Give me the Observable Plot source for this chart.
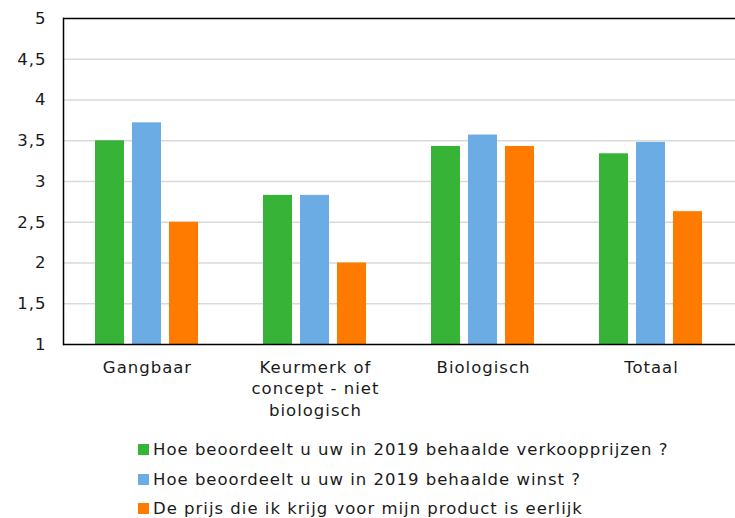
<!DOCTYPE html>
<html><head><meta charset="utf-8">
<script src="https://cdn.jsdelivr.net/npm/d3@7"></script>
<script src="https://cdn.jsdelivr.net/npm/@observablehq/plot@0.6"></script>
<style>
body{margin:0;background:#fff;font-family:"DejaVu Sans",Verdana,sans-serif;color:#1a1a1a;}
#chart{width:735px;}
.legend{margin:5px 0 0 138px;font-size:16.5px;letter-spacing:1px;}
.legend .item{display:flex;align-items:center;height:29.5px;}
.legend .sw{width:11px;height:11px;margin-right:4px;flex:none;}
</style></head><body><div id="chart"></div>
<script>
const categories = ["Gangbaar", "Keurmerk of concept - niet biologisch", "Biologisch", "Totaal"];
const categoryLabels = ["Gangbaar", "Keurmerk of\nconcept - niet\nbiologisch", "Biologisch", "Totaal"];
const series = [
  "Hoe beoordeelt u uw in 2019 behaalde verkoopprijzen ?",
  "Hoe beoordeelt u uw in 2019 behaalde winst ?",
  "De prijs die ik krijg voor mijn product is eerlijk"
];
const colors = ["#37b337", "#6aace3", "#ff7b00"];
const verkoopprijzen = [3.5, 2.83, 3.43, 3.34];
const winst = [3.72, 2.83, 3.57, 3.48];
const eerlijk = [2.5, 2.0, 3.43, 2.63];
const yTicks = [1, 1.5, 2, 2.5, 3, 3.5, 4, 4.5, 5];
const gridTicks = [1.5, 2, 2.5, 3, 3.5, 4, 4.5];
const frameTicks = [1, 5];

const seriesValues = [verkoopprijzen, winst, eerlijk];
const data = [];
categories.forEach((c, i) => series.forEach((s, j) => data.push({category: c, series: s, value: seriesValues[j][i]})));
const labelMap = new Map(categories.map((c, i) => [c, categoryLabels[i]]));

const chart = Plot.plot({
  width: 735, height: 430,
  marginLeft: 62, marginRight: 0, marginTop: 18, marginBottom: 86,
  style: {fontFamily: "'DejaVu Sans', Verdana, sans-serif", fontSize: "16.5px", letterSpacing: "1px", color: "#1a1a1a", background: "#fff"},
  fx: {domain: categories, padding: 0, label: null},
  x: {domain: series, axis: null, paddingInner: 0.21, paddingOuter: 0.845},
  y: {domain: [1, 5], axis: null},
  color: {domain: series, range: colors},
  marks: [
    Plot.ruleY(gridTicks, {stroke: "#d9d9d9", strokeWidth: 1.5}),
    Plot.barY(data, {fx: "category", x: "series", y1: 1, y2: "value", fill: "series"}),
    Plot.ruleY(frameTicks, {stroke: "#000", strokeWidth: 1.5}),
    Plot.frame({anchor: "left", stroke: "#000", strokeWidth: 1.5, facetAnchor: "left"}),
    Plot.axisY({ticks: yTicks, tickSize: 0, tickPadding: 17,
      tickFormat: d => String(d).replace(".", ","), label: null, fill: "#1a1a1a"}),
    Plot.axisFx({anchor: "bottom", tickSize: 0, tickPadding: 13, label: null, lineHeight: 1.3, tickFormat: c => labelMap.get(c), fill: "#1a1a1a"})
  ]
});
document.getElementById("chart").appendChild(chart);

const legend = document.createElement("div");
legend.className = "legend";
series.forEach((s, j) => {
  const item = document.createElement("div");
  item.className = "item";
  const sw = document.createElement("span");
  sw.className = "sw";
  sw.style.background = colors[j];
  const t = document.createElement("span");
  t.textContent = s;
  item.append(sw, t);
  legend.append(item);
});
document.getElementById("chart").appendChild(legend);
</script></body></html>
